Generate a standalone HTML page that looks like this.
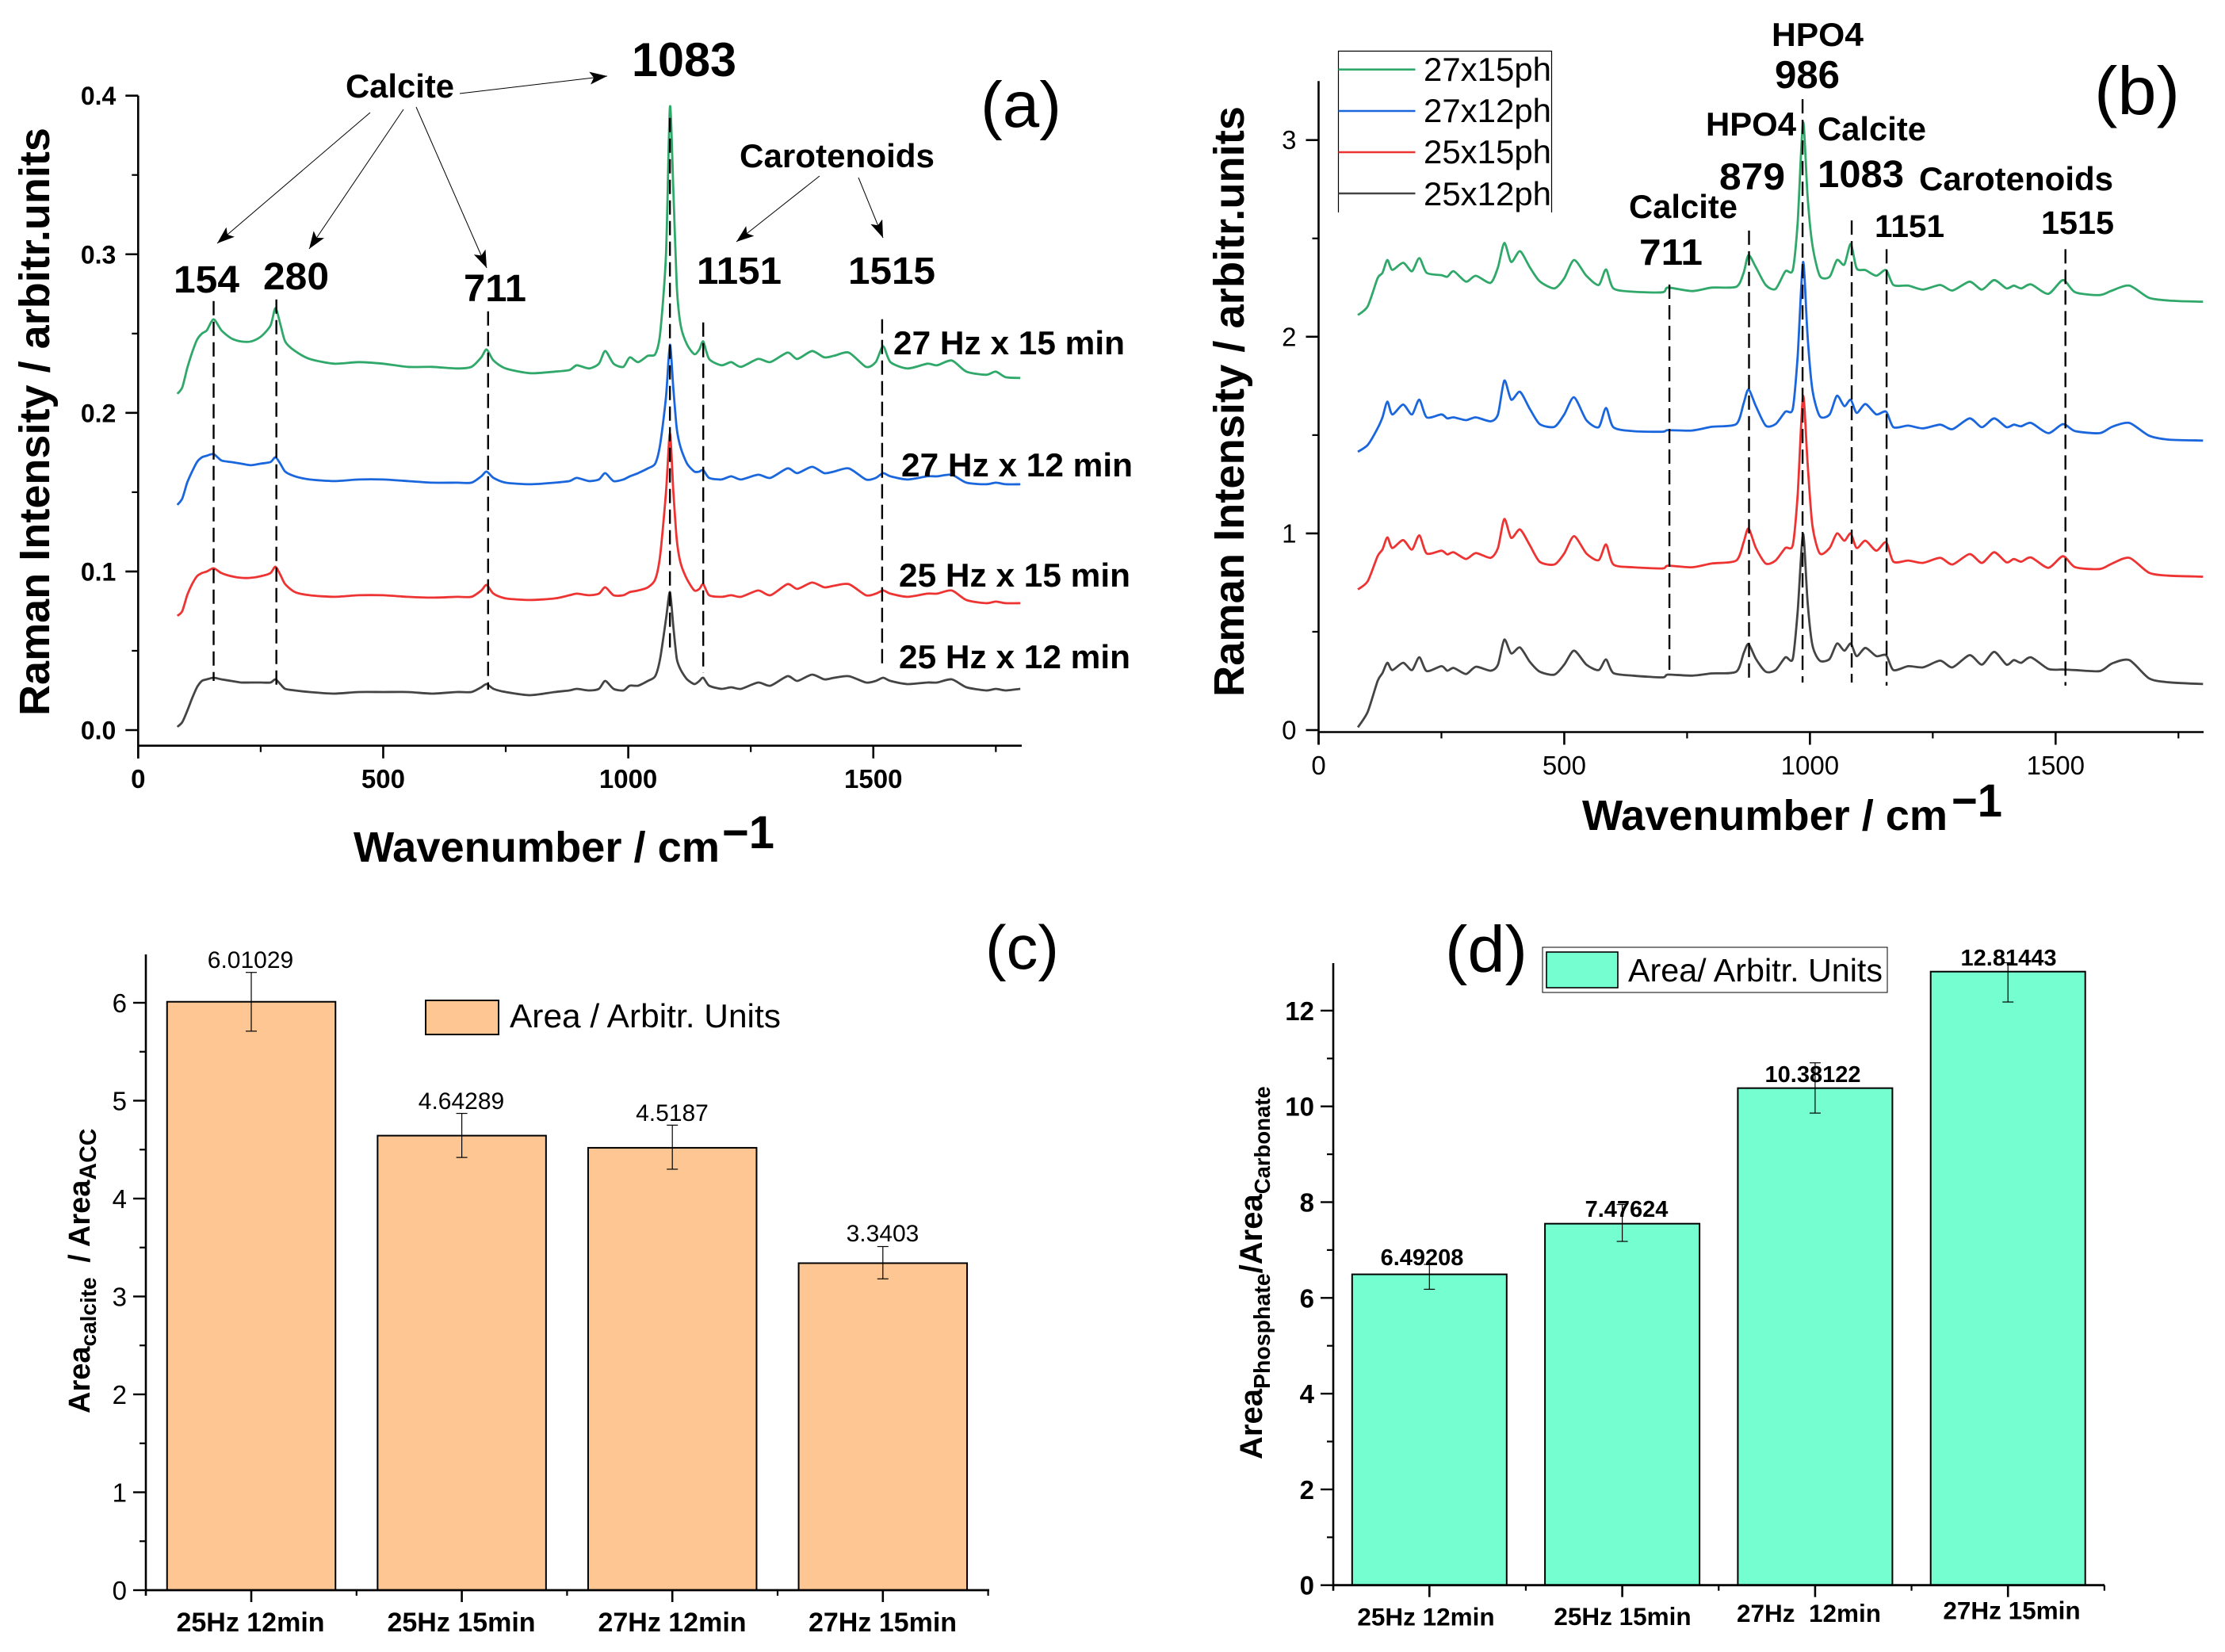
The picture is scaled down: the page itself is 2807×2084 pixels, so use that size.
<!DOCTYPE html>
<html lang="en">
<head>
<meta charset="utf-8">
<title>Raman spectra and area ratios</title>
<style>
html,body{margin:0;padding:0;background:#fff}
svg{display:block;font-family:"Liberation Sans",sans-serif}
text{fill:#000}
.b{font-weight:bold}
</style>
</head>
<body>
<svg id="fig" xmlns="http://www.w3.org/2000/svg" width="2807" height="2084" viewBox="0 0 2807 2084">
<defs>
<marker id="ah" markerUnits="userSpaceOnUse" markerWidth="24" markerHeight="16" refX="22" refY="8" orient="auto"><path d="M0,0 L22,8 L0,16 L5,8 Z" fill="#000"/></marker>
</defs>
<rect width="2807" height="2084" fill="#fff"/>
<g id="pa"></g>
<g id="pb"></g>
<g id="pc"></g>
<g id="pd"></g>

<!-- Panel a text -->
<g>
<text x="1237" y="160" font-size="82" textLength="102" lengthAdjust="spacingAndGlyphs">(a)</text>
<text class="b" x="797" y="96" font-size="60" textLength="132" lengthAdjust="spacingAndGlyphs">1083</text>
<text class="b" x="436" y="123" font-size="42" textLength="137" lengthAdjust="spacingAndGlyphs">Calcite</text>
<text class="b" x="933" y="211" font-size="42" textLength="246" lengthAdjust="spacingAndGlyphs">Carotenoids</text>
<text class="b" x="219" y="369" font-size="48" textLength="83" lengthAdjust="spacingAndGlyphs">154</text>
<text class="b" x="332" y="365" font-size="48" textLength="83" lengthAdjust="spacingAndGlyphs">280</text>
<text class="b" x="585" y="380" font-size="48" textLength="79" lengthAdjust="spacingAndGlyphs">711</text>
<text class="b" x="879" y="358" font-size="48" textLength="107" lengthAdjust="spacingAndGlyphs">1151</text>
<text class="b" x="1070" y="358" font-size="48" textLength="110" lengthAdjust="spacingAndGlyphs">1515</text>
<text class="b" x="1127" y="447" font-size="42" textLength="292" lengthAdjust="spacingAndGlyphs">27 Hz x 15 min</text>
<text class="b" x="1137" y="601" font-size="42" textLength="292" lengthAdjust="spacingAndGlyphs">27 Hz x 12 min</text>
<text class="b" x="1134" y="740" font-size="42" textLength="292" lengthAdjust="spacingAndGlyphs">25 Hz x 15 min</text>
<text class="b" x="1134" y="843" font-size="42" textLength="292" lengthAdjust="spacingAndGlyphs">25 Hz x 12 min</text>
<text class="b" transform="translate(62,903) rotate(-90)" font-size="54" textLength="742" lengthAdjust="spacingAndGlyphs">Raman Intensity / arbitr.units</text>
<text class="b" x="446" y="1087" font-size="54" textLength="462" lengthAdjust="spacingAndGlyphs">Wavenumber / cm</text>
<text class="b" x="911" y="1070" font-size="58" textLength="66" lengthAdjust="spacingAndGlyphs">−1</text>
</g>

<!-- Panel b text -->
<g>
<text x="2642" y="144" font-size="85" textLength="108" lengthAdjust="spacingAndGlyphs">(b)</text>
<text class="b" x="2235" y="58" font-size="42" textLength="116" lengthAdjust="spacingAndGlyphs">HPO4</text>
<text class="b" x="2239" y="111" font-size="49" textLength="82" lengthAdjust="spacingAndGlyphs">986</text>
<text class="b" x="2152" y="171" font-size="42" textLength="114" lengthAdjust="spacingAndGlyphs">HPO4</text>
<text class="b" x="2293" y="177" font-size="42" textLength="137" lengthAdjust="spacingAndGlyphs">Calcite</text>
<text class="b" x="2169" y="239" font-size="47" textLength="83" lengthAdjust="spacingAndGlyphs">879</text>
<text class="b" x="2293" y="236" font-size="48" textLength="109" lengthAdjust="spacingAndGlyphs">1083</text>
<text class="b" x="2421" y="240" font-size="42" textLength="245" lengthAdjust="spacingAndGlyphs">Carotenoids</text>
<text class="b" x="2365" y="299" font-size="40" textLength="88" lengthAdjust="spacingAndGlyphs">1151</text>
<text class="b" x="2575" y="295" font-size="41" textLength="92" lengthAdjust="spacingAndGlyphs">1515</text>
<text class="b" x="2055" y="275" font-size="42" textLength="137" lengthAdjust="spacingAndGlyphs">Calcite</text>
<text class="b" x="2068" y="334" font-size="46" textLength="80" lengthAdjust="spacingAndGlyphs">711</text>
<text class="b" transform="translate(1569,879) rotate(-90)" font-size="54" textLength="745" lengthAdjust="spacingAndGlyphs">Raman Intensity / arbitr.units</text>
<text class="b" x="1996" y="1047" font-size="54" textLength="461" lengthAdjust="spacingAndGlyphs">Wavenumber / cm</text>
<text class="b" x="2462" y="1030" font-size="58" textLength="64" lengthAdjust="spacingAndGlyphs">−1</text>
<g>
<path d="M1692,268 V64.5 H1961 V268" fill="none" stroke="#000" stroke-width="1.2" transform="translate(-3.5,0)"/>
<line x1="1688.5" x2="1785.5" y1="87.7" y2="87.7" stroke="#2fa86a" stroke-width="2.6"/>
<line x1="1688.5" x2="1785.5" y1="140" y2="140" stroke="#1a66dd" stroke-width="2.6"/>
<line x1="1688.5" x2="1785.5" y1="192" y2="192" stroke="#ee3333" stroke-width="2.6"/>
<line x1="1688.5" x2="1785.5" y1="244" y2="244" stroke="#444" stroke-width="2.6"/>
<text x="1796" y="102" font-size="42" textLength="161" lengthAdjust="spacingAndGlyphs">27x15ph</text>
<text x="1796" y="154" font-size="42" textLength="161" lengthAdjust="spacingAndGlyphs">27x12ph</text>
<text x="1796" y="206" font-size="42" textLength="161" lengthAdjust="spacingAndGlyphs">25x15ph</text>
<text x="1796" y="259" font-size="42" textLength="161" lengthAdjust="spacingAndGlyphs">25x12ph</text>
</g>
</g>

<!-- Panel c text -->
<g>
<text x="1243" y="1222" font-size="78" textLength="93" lengthAdjust="spacingAndGlyphs">(c)</text>
<rect x="537" y="1262" width="92" height="43" fill="#fdc692" stroke="#000" stroke-width="2"/>
<text x="643" y="1296" font-size="42" textLength="342" lengthAdjust="spacingAndGlyphs">Area / Arbitr. Units</text>
<text class="b" transform="translate(113,1783) rotate(-90)" font-size="38">Area<tspan font-size="28" dy="8">calcite</tspan><tspan font-size="38" dy="-8" dx="8"> / Area</tspan><tspan font-size="30" dy="8">ACC</tspan></text>
</g>

<!-- Panel d text -->
<g>
<text x="1823" y="1226" font-size="83" textLength="104" lengthAdjust="spacingAndGlyphs">(d)</text>
<rect x="1946" y="1195" width="435" height="57" fill="#fff" stroke="#000" stroke-width="1"/>
<rect x="1951" y="1201" width="90" height="45" fill="#75ffd0" stroke="#000" stroke-width="1.6"/>
<text x="2054" y="1238" font-size="41" textLength="321" lengthAdjust="spacingAndGlyphs">Area/ Arbitr. Units</text>
<text class="b" transform="translate(1592,1841) rotate(-90)" font-size="40">Area<tspan font-size="28.5" dy="10">Phosphate</tspan><tspan font-size="40" dy="-10">/Area</tspan><tspan font-size="27.5" dy="10">Carbonate</tspan></text>
</g>
</svg>

<script>
// ---------- Panel (a) data ----------
const aWave = [80,90,100,110,120,130,140,154,170,190,210,230,250,270,280,290,300,320,350,400,450,500,550,600,650,680,700,711,725,750,800,850,880,895,920,940,953,970,990,1003,1020,1040,1055,1065,1077,1085,1092,1099,1107,1120,1135,1145,1153,1165,1190,1210,1230,1265,1290,1325,1345,1375,1400,1420,1450,1485,1505,1520,1535,1570,1610,1630,1660,1690,1730,1750,1770,1800];
const a27x15 = [.212,.216,.228,.238,.246,.25,.252,.259,.252,.247,.245,.245,.248,.255,.266,.256,.245,.239,.234,.231,.232,.231,.229,.229,.228,.229,.235,.24,.233,.228,.225,.226,.227,.23,.228,.231,.239,.231,.229,.235,.232,.236,.237,.25,.3,.393,.34,.28,.255,.243,.237,.24,.245,.234,.23,.232,.229,.234,.232,.238,.234,.239,.235,.236,.238,.229,.232,.242,.232,.228,.231,.23,.233,.226,.224,.226,.2225,.222];
const a27x12 = [.142,.146,.156,.163,.169,.172,.173,.174,.17,.169,.168,.167,.168,.169,.172,.168,.163,.16,.158,.157,.158,.158,.157,.156,.156,.156,.16,.163,.159,.156,.155,.156,.157,.159,.157,.158,.162,.157,.158,.16,.162,.165,.168,.18,.21,.243,.215,.19,.178,.168,.163,.163,.164,.159,.158,.16,.158,.161,.159,.165,.162,.166,.162,.163,.165,.158,.159,.162,.16,.158,.16,.16,.161,.156,.155,.156,.155,.155];
const a25x15 = [.072,.075,.085,.092,.097,.099,.1,.102,.099,.097,.096,.096,.097,.099,.103,.098,.092,.087,.085,.084,.085,.085,.084,.0835,.084,.084,.088,.0915,.086,.083,.082,.083,.085,.086,.085,.086,.09,.085,.085,.087,.088,.09,.095,.11,.15,.187,.15,.12,.105,.095,.088,.089,.092,.085,.084,.085,.084,.088,.085,.092,.089,.093,.09,.091,.092,.085,.086,.088,.086,.084,.086,.086,.088,.082,.08,.081,.08,.08];
const a25x12 = [.002,.005,.012,.02,.027,.031,.032,.033,.032,.031,.03,.03,.03,.03,.032,.029,.026,.025,.024,.023,.024,.024,.024,.023,.024,.024,.027,.029,.026,.024,.022,.024,.025,.026,.025,.026,.031,.026,.025,.028,.028,.031,.034,.045,.07,.087,.065,.045,.038,.032,.029,.031,.033,.028,.026,.027,.026,.03,.028,.034,.031,.035,.032,.033,.034,.03,.031,.033,.031,.029,.03,.03,.032,.027,.025,.026,.025,.026];
const aYTicks = ["0.0","0.1","0.2","0.3","0.4"];
const aXTicks = ["0","500","1000","1500"];

// ---------- Panel (b) data ----------
const bWave = [80,100,120,130,140,150,172,190,205,220,250,262,275,300,320,350,365,378,392,410,430,450,480,500,520,545,570,585,600,640,700,711,760,800,850,865,875,890,910,930,950,965,975,986,995,1005,1020,1040,1055,1070,1083,1095,1113,1135,1155,1170,1200,1230,1265,1290,1325,1350,1375,1400,1415,1430,1450,1485,1515,1540,1590,1615,1650,1690,1730,1800];
const b27x15 = [2.11,2.155,2.297,2.325,2.39,2.34,2.376,2.333,2.40,2.325,2.313,2.305,2.333,2.28,2.31,2.274,2.353,2.477,2.38,2.435,2.353,2.282,2.246,2.297,2.39,2.31,2.263,2.342,2.246,2.229,2.226,2.25,2.232,2.25,2.254,2.325,2.415,2.353,2.263,2.243,2.333,2.339,2.58,3.09,2.72,2.466,2.31,2.305,2.39,2.367,2.472,2.348,2.339,2.31,2.339,2.263,2.26,2.24,2.263,2.235,2.28,2.24,2.288,2.246,2.26,2.246,2.266,2.218,2.288,2.226,2.212,2.235,2.26,2.198,2.184,2.178];
const b27x12 = [1.415,1.45,1.534,1.59,1.67,1.605,1.655,1.605,1.68,1.59,1.605,1.585,1.59,1.576,1.59,1.57,1.605,1.777,1.68,1.72,1.633,1.556,1.542,1.605,1.692,1.576,1.54,1.638,1.54,1.52,1.517,1.525,1.523,1.542,1.556,1.661,1.732,1.647,1.548,1.556,1.619,1.633,1.9,2.38,2.01,1.73,1.596,1.605,1.7,1.647,1.68,1.613,1.658,1.605,1.619,1.54,1.548,1.534,1.553,1.53,1.585,1.54,1.585,1.54,1.553,1.545,1.562,1.51,1.556,1.52,1.51,1.542,1.562,1.497,1.477,1.472];
const b25x15 = [.715,.757,.884,.918,.98,.926,.966,.918,.99,.898,.912,.893,.904,.87,.9,.876,.926,1.073,.977,1.02,.94,.856,.842,.898,.986,.898,.864,.944,.842,.828,.822,.836,.828,.847,.862,.955,1.025,.926,.847,.862,.926,.94,1.195,1.698,1.364,1.04,.898,.926,1.0,.963,1.0,.926,.963,.912,.955,.856,.862,.85,.876,.842,.895,.85,.904,.853,.87,.856,.878,.825,.884,.828,.819,.847,.876,.8,.785,.78];
const b25x12 = [.014,.093,.249,.29,.342,.305,.342,.305,.37,.3,.325,.302,.316,.285,.322,.302,.333,.46,.39,.42,.347,.297,.282,.333,.404,.333,.305,.359,.29,.277,.268,.282,.277,.288,.297,.39,.438,.362,.297,.305,.37,.362,.602,.997,.658,.432,.353,.362,.44,.404,.44,.376,.418,.376,.381,.305,.325,.319,.353,.319,.381,.333,.398,.333,.356,.342,.37,.311,.308,.305,.3,.339,.356,.263,.243,.234];
const bYTicks = ["0","1","2","3"];
const bXTicks = ["0","500","1000","1500"];

// ---------- Panel (c) data ----------
const cCats = ["25Hz 12min","25Hz 15min","27Hz 12min","27Hz 15min"];
const cVals = [6.01029,4.64289,4.5187,3.3403];
const cValLabels = ["6.01029","4.64289","4.5187","3.3403"];
const cErrHigh = [6.31,4.87,4.75,3.51];
const cErrLow = [5.71,4.42,4.30,3.18];
const cYTicks = ["0","1","2","3","4","5","6"];

// ---------- Panel (d) data ----------
const dCats = ["25Hz 12min","25Hz 15min","27Hz  12min","27Hz 15min"];
const dVals = [6.49208,7.55,10.38122,12.81443];
const dValLabels = ["6.49208","7.47624","10.38122","12.81443"];
const dErrHigh = [6.7,7.95,10.91,13.0];
const dErrLow = [6.18,7.18,9.86,12.18];
const dYTicks = ["0","2","4","6","8","10","12"];

// ---------- Peak annotations ----------
const aPeaks = [154,282,714,1085,1153,1518];
const bPeaks = [714,876,985,1085,1156,1520];

const NS = "http://www.w3.org/2000/svg";
const COL = {g:"#2fa86a", b:"#1a66dd", r:"#ee3333", k:"#444444"};

function add(parent, tag, attrs, txt){
  const e = document.createElementNS(NS, tag);
  for (const k in attrs) e.setAttribute(k, attrs[k]);
  if (txt !== undefined) e.textContent = txt;
  parent.appendChild(e);
  return e;
}
function hl(p, x1, x2, y, w){ return add(p,"line",{x1:x1,x2:x2,y1:y,y2:y,stroke:"#000","stroke-width":w}); }
function vl(p, x, y1, y2, w){ return add(p,"line",{x1:x,x2:x,y1:y1,y2:y2,stroke:"#000","stroke-width":w}); }

// Smooth path through the data points (Catmull-Rom, reduced tension so peaks keep their height)
function smoothPath(pts){
  let d = "M" + pts[0][0].toFixed(1) + "," + pts[0][1].toFixed(1);
  for (let i = 0; i < pts.length - 1; i++){
    const p0 = pts[Math.max(0,i-1)], p1 = pts[i], p2 = pts[i+1], p3 = pts[Math.min(pts.length-1,i+2)];
    const k = 8;
    const c1x = p1[0] + (p2[0]-p0[0])/k, c1y = p1[1] + (p2[1]-p0[1])/k;
    const c2x = p2[0] - (p3[0]-p1[0])/k, c2y = p2[1] - (p3[1]-p1[1])/k;
    d += "C" + c1x.toFixed(1) + "," + c1y.toFixed(1) + " " + c2x.toFixed(1) + "," + c2y.toFixed(1) + " " + p2[0].toFixed(1) + "," + p2[1].toFixed(1);
  }
  return d;
}

function spectrumPanel(g, key, xs, ser, xf, yf, yTicks, xTicks, opts){
  const ln = add(g,"g",{});
  
  
  ser.forEach(function(s){
    const pts = xs.map(function(w,i){ return [xf(w), yf(s.v[i])]; });
    const el = add(ln,"path",{d:smoothPath(pts),fill:"none",stroke:s.c,"stroke-width":2.8,"stroke-linejoin":"round"});
    
    
  });
  const ax = add(g,"g",{});
  
  
  const y0 = opts.axisY, x0 = xf(0);
  vl(ax, x0, yf(opts.yTop), y0 + 16, 2.6);
  hl(ax, x0, opts.axisEnd, y0, 2.6);
  // y ticks
  yTicks.forEach(function(t){
    const v = parseFloat(t), y = yf(v);
    hl(ax, x0 - 16, x0, y, 2.6);
    const lb = add(ax,"text",{x:x0 - opts.yGap,y:y + 11.5,"text-anchor":"end","font-size":opts.yFont,"font-weight":opts.weight},t);
    
    
  });
  for (let i = 0; i < yTicks.length - 1; i++){
    const a = parseFloat(yTicks[i]), b = parseFloat(yTicks[i+1]);
    hl(ax, x0 - 8, x0, yf((a + b) / 2), 2.2);
  }
  // x ticks
  xTicks.forEach(function(t){
    const v = parseFloat(t), x = xf(v);
    vl(ax, x, y0, y0 + 16, 2.6);
    const lb = add(ax,"text",{x:x,y:opts.xLabelY,"text-anchor":"middle","font-size":33,"font-weight":opts.weight},t);
    
    
    vl(ax, xf(v + 250), y0, y0 + 8, 2.2);
  });
}

// ---- Panel a ----
const pa = document.getElementById("pa");
const ax_ = function(w){ return 174.3 + w * 0.6183; };
const ay_ = function(v){ return 921 - v * 2000.8; };
spectrumPanel(pa,"panel-a",aWave,[
  {n:"25hz-12min",c:COL.k,v:a25x12},
  {n:"25hz-15min",c:COL.r,v:a25x15},
  {n:"27hz-12min",c:COL.b,v:a27x12},
  {n:"27hz-15min",c:COL.g,v:a27x15}
],ax_,ay_,aYTicks,aXTicks,{axisY:940.7,axisEnd:1289,yTop:0.4,yFont:32,weight:"bold",xLabelY:994,yGap:28});

// dashed peak guides – vertical extents follow the annotation, x follows the peak wavenumber
const aGuideTop = [0.2705,0.2715,0.2640,0.3860,0.2570,0.2590];
const aGuideBottom = [0.0310,0.0275,0.0255,0.0510,0.0360,0.0415];
aPeaks.forEach(function(w,i){
  const el = add(pa,"line",{x1:ax_(w),x2:ax_(w),y1:ay_(aGuideTop[i]),y2:ay_(aGuideBottom[i]),stroke:"#000","stroke-width":2.4,"stroke-dasharray":"18 8"});
  
  
});
[[467,142,274,307],[509,138,390,314],[525,135,614,338],[580,118,766,96],[1034,222,929,305],[1083,224,1114,300]].forEach(function(a){
  const el = add(pa,"line",{x1:a[0],y1:a[1],x2:a[2],y2:a[3],stroke:"#000","stroke-width":1,"marker-end":"url(#ah)"});
  
  
});

// ---- Panel b ----
const pb = document.getElementById("pb");
const bx_ = function(w){ return 1663.5 + w * 0.61987; };
const by_ = function(v){ return 921 - v * 248.1; };
spectrumPanel(pb,"panel-b",bWave,[
  {n:"25x12ph",c:COL.k,v:b25x12},
  {n:"25x15ph",c:COL.r,v:b25x15},
  {n:"27x12ph",c:COL.b,v:b27x12},
  {n:"27x15ph",c:COL.g,v:b27x15}
],bx_,by_,bYTicks,bXTicks,{axisY:923.5,axisEnd:2780,yTop:3.3,yFont:33,weight:"normal",xLabelY:977,yGap:28});
const bGuideTop = [2.265,2.540,3.208,2.591,2.445,2.445];
const bGuideBottom = [0.290,0.250,0.242,0.242,0.226,0.226];
bPeaks.forEach(function(w,i){
  const el = add(pb,"line",{x1:bx_(w),x2:bx_(w),y1:by_(bGuideTop[i]),y2:by_(bGuideBottom[i]),stroke:"#000","stroke-width":2.4,"stroke-dasharray":"18 8"});
  
  
});

// ---- Bar panels ----
function barPanel(g, key, cats, vals, labels, hi, lo, yTicks, o){
  const yf = function(v){ return o.y0 - v * o.unit; };
  const xc = function(i){ return o.firstCenter + i * o.step; };
  cats.forEach(function(c,i){
    const r = add(g,"rect",{x:xc(i)-o.barW/2,y:yf(vals[i]),width:o.barW,height:o.y0-yf(vals[i]),fill:o.fill,stroke:"#000","stroke-width":2});
    
    
  });
  cats.forEach(function(c,i){
    const x = xc(i);
    const e = add(g,"g",{stroke:"#000","stroke-width":1.2});
    
    
    add(e,"line",{x1:x,x2:x,y1:yf(hi[i]),y2:yf(lo[i])});
    add(e,"line",{x1:x-7,x2:x+7,y1:yf(hi[i]),y2:yf(hi[i])});
    add(e,"line",{x1:x-7,x2:x+7,y1:yf(lo[i]),y2:yf(lo[i])});
    const lb = add(g,"text",{x:o.valX[i],y:o.valY[i],"text-anchor":"middle","font-size":o.valFont,"font-weight":o.valWeight},labels[i]);
    
    
    const cl = add(g,"text",{x:o.catX[i],y:o.catY[i],"text-anchor":"middle","font-size":o.catFont,"font-weight":"bold",style:"white-space:pre"},c);
    
    
    vl(g, x, o.y0, o.y0 + 15, 2.6);
    vl(g, x + o.step/2, o.y0, o.y0 + 7, 2.2);
  });
  vl(g, o.left, o.top, o.y0 + 7, 2.6);
  hl(g, o.left, o.right, o.y0, 2.8);
  yTicks.forEach(function(t,i){
    const v = parseFloat(t), y = yf(v);
    hl(g, o.left - 16, o.left, y, 2.4);
    const lb = add(g,"text",{x:o.left - 24,y:y + 12,"text-anchor":"end","font-size":33,"font-weight":o.yWeight},t);
    
    
    if (i < yTicks.length - 1){
      hl(g, o.left - 8, o.left, yf((v + parseFloat(yTicks[i+1])) / 2), 2.2);
    }
  });
}
barPanel(document.getElementById("pc"),"panel-c",cCats,cVals,cValLabels,cErrHigh,cErrLow,cYTicks,{
  y0:2006,unit:123.5,left:184,right:1248,top:1204,firstCenter:317,step:265.6,barW:212.5,fill:"#fdc692",
  valX:[316,582,848,1113.5],valY:[1221,1399,1414,1566],valFont:30,valWeight:"normal",
  catX:[316,582,848,1113.5],catY:[2058,2058,2058,2058],catFont:34,yWeight:"normal"
});
barPanel(document.getElementById("pd"),"panel-d",dCats,dVals,dValLabels,dErrHigh,dErrLow,dYTicks,{
  y0:1999.7,unit:60.4,left:1682,right:2655,top:1215,firstCenter:1803.3,step:243.3,barW:195,fill:"#75ffd0",
  valX:[1794,2052,2287,2534],valY:[1596,1535,1365,1218],valFont:29,valWeight:"bold",
  catX:[1799,2047,2282,2538],catY:[2050.7,2050,2046,2042.6],catFont:31.5,yWeight:"bold"
});
</script>
</body>
</html>
